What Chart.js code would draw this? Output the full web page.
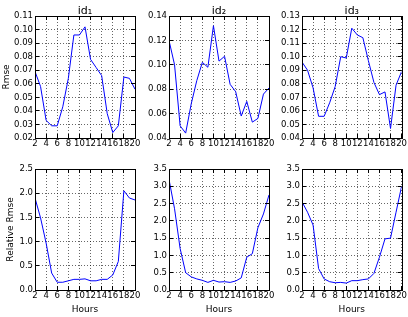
<!DOCTYPE html>
<html>
<head>
<meta charset="utf-8">
<script src="https://cdn.jsdelivr.net/npm/chart.js@4"></script>
<style>
    body { margin: 0; background: #fff; }
    #wrap { position: relative; width: 408px; height: 317px; overflow: hidden; background: #fff; }
    #wrap canvas { position: absolute; }
</style>
</head>
<body>
<div id="wrap"></div>
<script>
var hours = [2, 3, 4, 5, 6, 7, 8, 9, 10, 11, 12, 13, 14, 15, 16, 17, 18, 19, 20];
var hourTicks = [2, 4, 6, 8, 10, 12, 14, 16, 18, 20];

// Rmse per id (top row)
var rmseId1 = [0.069, 0.058, 0.033, 0.029, 0.029, 0.043, 0.064, 0.096, 0.096, 0.102, 0.078, 0.072, 0.066, 0.038, 0.024, 0.029, 0.065, 0.064, 0.056];
var rmseId2 = [0.120, 0.100, 0.050, 0.044, 0.068, 0.087, 0.102, 0.098, 0.132, 0.103, 0.107, 0.084, 0.078, 0.058, 0.070, 0.053, 0.056, 0.076, 0.081];
var rmseId3 = [0.096, 0.090, 0.077, 0.056, 0.056, 0.066, 0.078, 0.100, 0.099, 0.121, 0.116, 0.114, 0.097, 0.081, 0.072, 0.074, 0.047, 0.079, 0.089];

// Relative Rmse per id (bottom row)
var relId1 = [1.90, 1.49, 0.97, 0.35, 0.16, 0.16, 0.19, 0.22, 0.22, 0.23, 0.19, 0.19, 0.22, 0.22, 0.31, 0.59, 2.05, 1.90, 1.86];
var relId2 = [3.20, 2.35, 1.20, 0.50, 0.38, 0.32, 0.28, 0.22, 0.28, 0.23, 0.24, 0.22, 0.26, 0.35, 0.95, 1.05, 1.80, 2.20, 2.75];
var relId3 = [2.55, 2.25, 1.88, 0.62, 0.32, 0.24, 0.21, 0.22, 0.20, 0.27, 0.27, 0.30, 0.32, 0.48, 0.95, 1.48, 1.50, 2.25, 3.00];

var yTicksId1 = [0.02, 0.03, 0.04, 0.05, 0.06, 0.07, 0.08, 0.09, 0.10, 0.11];
var yTicksId2 = [0.04, 0.06, 0.08, 0.10, 0.12, 0.14];
var yTicksId3 = [0.04, 0.05, 0.06, 0.07, 0.08, 0.09, 0.10, 0.11, 0.12, 0.13];
var yTicksRel12 = [0.0, 0.5, 1.0, 1.5, 2.0, 2.5];
var yTicksRel3 = [0.0, 0.5, 1.0, 1.5, 2.0, 2.5, 3.0, 3.5];

var FONT = 'DejaVu Sans';

function align(px) {
    return Math.round(px - 0.5) + 0.5;
}

// matplotlib style box with inward ticks on all four sides
var framePlugin = {
    id: 'frame',
    afterDraw: function (chart) {
        var ctx = chart.ctx;
        var a = chart.chartArea;
        var xs = chart.scales.x;
        var ys = chart.scales.y;
        ctx.save();
        ctx.strokeStyle = '#000';
        ctx.lineWidth = 1;
        ctx.beginPath();
        xs.ticks.forEach(function (t) {
            var px = align(xs.getPixelForValue(t.value));
            ctx.moveTo(px, a.bottom); ctx.lineTo(px, a.bottom - 4);
            ctx.moveTo(px, a.top); ctx.lineTo(px, a.top + 4);
        });
        ys.ticks.forEach(function (t) {
            var py = align(ys.getPixelForValue(t.value));
            ctx.moveTo(a.left, py); ctx.lineTo(a.left + 4, py);
            ctx.moveTo(a.right, py); ctx.lineTo(a.right - 4, py);
        });
        ctx.stroke();
        ctx.strokeRect(align(a.left), align(a.top), Math.round(a.right - a.left), Math.round(a.bottom - a.top));
        ctx.restore();
    }
};

function makeChart(box, values, yTicks, digits, title, yLabel, yLabelPad, xLabel) {
    var canvas = document.createElement('canvas');
    canvas.width = box.width;
    canvas.height = box.height;
    canvas.style.left = box.left + 'px';
    canvas.style.top = box.top + 'px';
    document.getElementById('wrap').appendChild(canvas);

    var points = hours.map(function (h, i) {
        return { x: h, y: values[i] };
    });

    new Chart(canvas.getContext('2d'), {
        type: 'line',
        data: {
            datasets: [{
                data: points,
                borderColor: '#0000ff',
                borderWidth: 1,
                pointRadius: 0,
                fill: false,
                tension: 0
            }]
        },
        options: {
            responsive: false,
            animation: false,
            devicePixelRatio: 1,
            layout: {
                autoPadding: false,
                padding: { top: title ? 0 : 19, right: box.rightPad, left: 0, bottom: 0 }
            },
            plugins: {
                legend: { display: false },
                tooltip: { enabled: false },
                title: {
                    display: !!title,
                    text: title,
                    fullSize: false,
                    color: '#000',
                    font: { family: FONT, size: 11, weight: 'normal', lineHeight: '10px' },
                    padding: { top: 6, bottom: 0 }
                }
            },
            scales: {
                x: {
                    type: 'linear',
                    min: 2,
                    max: 20,
                    afterBuildTicks: function (scale) {
                        scale.ticks = hourTicks.map(function (v) { return { value: v }; });
                    },
                    afterFit: function (scale) {
                        scale.height = box.xHeight;
                    },
                    grid: { color: 'rgba(0,0,0,0.6)', lineWidth: 1, drawTicks: false },
                    border: { color: '#000', dash: [1, 2] },
                    ticks: {
                        autoSkip: false,
                        maxRotation: 0,
                        minRotation: 0,
                        padding: 1,
                        color: '#000',
                        font: { family: FONT, size: 8.5 },
                        callback: function (v) { return String(v); }
                    },
                    title: {
                        display: !!xLabel,
                        text: xLabel,
                        color: '#000',
                        font: { family: FONT, size: 9 },
                        padding: { top: 0, bottom: 1.6 }
                    }
                },
                y: {
                    min: yTicks[0],
                    max: yTicks[yTicks.length - 1],
                    afterBuildTicks: function (scale) {
                        scale.ticks = yTicks.map(function (v) { return { value: v }; });
                    },
                    afterFit: function (scale) {
                        scale.width = 35;
                    },
                    grid: { color: 'rgba(0,0,0,0.6)', lineWidth: 1, drawTicks: false },
                    border: { color: '#000', dash: [1, 2] },
                    ticks: {
                        padding: 2,
                        color: '#000',
                        font: { family: FONT, size: 8.5 },
                        callback: function (v) { return v.toFixed(digits); }
                    },
                    title: {
                        display: !!yLabel,
                        text: yLabel,
                        color: '#000',
                        font: { family: FONT, size: 9 },
                        padding: { top: yLabelPad, bottom: 0 }
                    }
                }
            }
        },
        plugins: [framePlugin]
    });
}

// top row: plot area 16..138, bottom row: 169..290
makeChart({ left: 0, top: 0, width: 143, height: 152, rightPad: 8, xHeight: 14 }, rmseId1, yTicksId1, 2, 'id\u2081', 'Rmse', 1, '');
makeChart({ left: 134, top: 0, width: 143, height: 152, rightPad: 8, xHeight: 14 }, rmseId2, yTicksId2, 2, 'id\u2082', '', 0, '');
makeChart({ left: 267, top: 0, width: 141, height: 152, rightPad: 6, xHeight: 14 }, rmseId3, yTicksId3, 2, 'id\u2083', '', 0, '');
makeChart({ left: 0, top: 150, width: 143, height: 167, rightPad: 8, xHeight: 27 }, relId1, yTicksRel12, 1, '', 'Relative Rmse', 5.6, 'Hours');
makeChart({ left: 134, top: 150, width: 143, height: 167, rightPad: 8, xHeight: 27 }, relId2, yTicksRel3, 1, '', '', 0, 'Hours');
makeChart({ left: 267, top: 150, width: 141, height: 167, rightPad: 6, xHeight: 27 }, relId3, yTicksRel3, 1, '', '', 0, 'Hours');
</script>
</body>
</html>
